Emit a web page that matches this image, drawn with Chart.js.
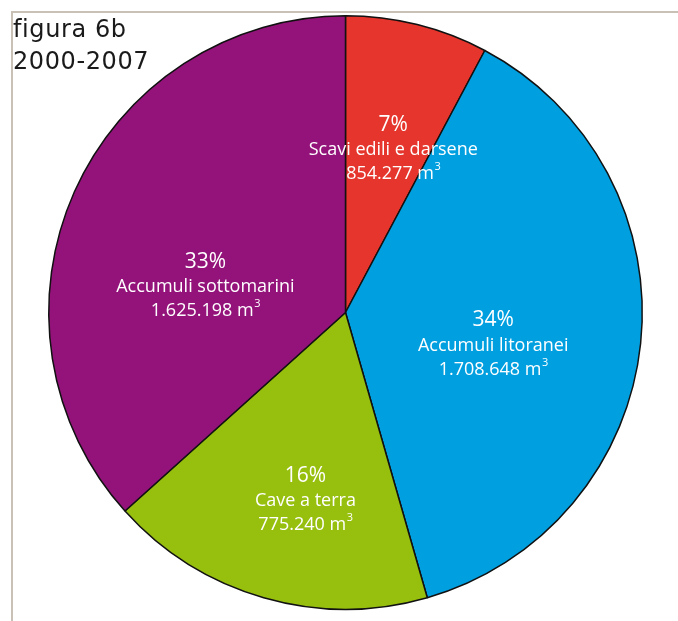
<!DOCTYPE html>
<html>
<head>
<meta charset="utf-8">
<script src="https://cdn.jsdelivr.net/npm/chart.js@4.4.1/dist/chart.umd.min.js"></script>
<style>
  html, body { margin: 0; padding: 0; background: #fff; }
  #wrap { position: relative; width: 678px; height: 621px; overflow: hidden; }
  #frame { position: absolute; left: 11px; top: 11px; right: -5px; bottom: -5px;
           border-left: 2px solid #c9c0b6; border-top: 2px solid #c9c0b6; }
  #title { position: absolute; left: 13px; top: 13px; font-family: "DejaVu Sans", sans-serif;
           font-size: 24px; line-height: 32px; color: #1a1a1a; letter-spacing: 0.6px; }
  canvas { position: absolute; left: 0; top: 0; }
</style>
</head>
<body>
<div id="wrap">
  <div id="frame"></div>
  <canvas id="pie-chart" width="678" height="621"></canvas>
  <div id="title">figura 6b<br>2000-2007</div>
</div>
<script>
const categories = ['Scavi edili e darsene', 'Accumuli litoranei', 'Cave a terra', 'Accumuli sottomarini'];
const percentages = [7, 34, 16, 33];
const volumes = ['854.277', '1.708.648', '775.240', '1.625.198'];
const colors = ['#e5352c', '#009fe0', '#97bf0e', '#93137a'];

// where each label block sits inside its slice: [radius fraction, angle shift in degrees]
const labelPlace = [[0.57, 2.4], [0.51, 6.6], [0.65, -4], [0.48, -13.6]];

const sliceLabels = {
    id: 'sliceLabels',
    afterDatasetsDraw(chart) {
        const ctx = chart.ctx;
        const arcs = chart.getDatasetMeta(0).data;
        ctx.save();
        ctx.fillStyle = '#fff';
        ctx.textAlign = 'center';
        ctx.textBaseline = 'middle';
        arcs.forEach((arc, i) => {
            const p = arc.getProps(['x', 'y', 'startAngle', 'endAngle', 'outerRadius'], true);
            const mid = (p.startAngle + p.endAngle) / 2 + labelPlace[i][1] * Math.PI / 180;
            const r = p.outerRadius * labelPlace[i][0];
            const cx = p.x + Math.cos(mid) * r;
            const cy = p.y + Math.sin(mid) * r;
            ctx.font = '21px "Open Sans", sans-serif';
            ctx.fillText(percentages[i] + '%', cx, cy - 25);
            ctx.font = '18px "Open Sans", sans-serif';
            ctx.fillText(categories[i], cx, cy);
            // volume with a raised cube exponent
            const num = volumes[i] + ' m';
            const w1 = ctx.measureText(num).width;
            ctx.font = '11px "Open Sans", sans-serif';
            const w2 = ctx.measureText('3').width;
            const x0 = cx - (w1 + w2) / 2;
            ctx.textAlign = 'left';
            ctx.font = '18px "Open Sans", sans-serif';
            ctx.fillText(num, x0, cy + 24);
            ctx.font = '11px "Open Sans", sans-serif';
            ctx.fillText('3', x0 + w1 + 0.5, cy + 17);
            ctx.textAlign = 'center';
        });
        ctx.restore();
    }
};

new Chart(document.getElementById('pie-chart').getContext('2d'), {
    type: 'pie',
    data: {
        labels: categories,
        datasets: [{
            data: percentages,
            backgroundColor: colors,
            borderColor: '#111',
            borderWidth: 1.5
        }]
    },
    options: {
        responsive: false,
        animation: false,
        layout: { padding: { top: 15, bottom: 11, left: 48, right: 35 } },
        plugins: {
            legend: { display: false },
            tooltip: { enabled: false }
        }
    },
    plugins: [sliceLabels]
});
</script>
</body>
</html>
